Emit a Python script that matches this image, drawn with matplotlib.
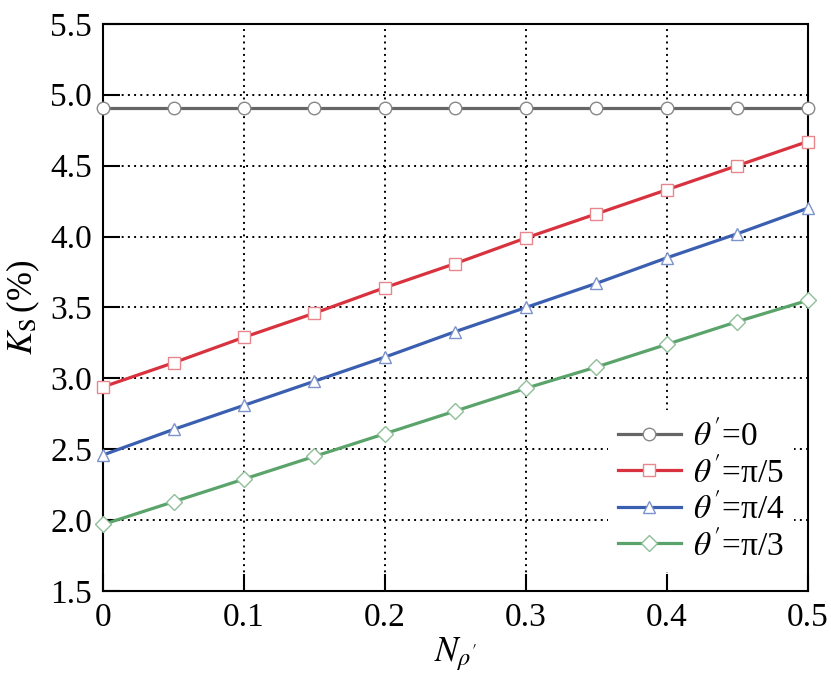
import matplotlib
matplotlib.use("Agg")
import matplotlib.pyplot as plt
from matplotlib import font_manager as fm
import numpy as np

names = {f.name for f in fm.fontManager.ttflist}
serif = 'Liberation Serif' if 'Liberation Serif' in names else 'STIXGeneral'
plt.rcParams['font.family'] = [serif, 'STIXGeneral', 'DejaVu Serif']
plt.rcParams['mathtext.fontset'] = 'stix'

x_vals = [0.0, 0.05, 0.10, 0.15, 0.20, 0.25, 0.30, 0.35, 0.40, 0.45, 0.50]
k_theta0 = [4.91] * 11
k_pi5 = [2.94, 3.11, 3.29, 3.46, 3.64, 3.81, 3.99, 4.16, 4.33, 4.50, 4.67]
k_pi4 = [2.46, 2.64, 2.81, 2.98, 3.15, 3.33, 3.50, 3.67, 3.85, 4.02, 4.20]
k_pi3 = [1.97, 2.13, 2.29, 2.45, 2.61, 2.77, 2.93, 3.08, 3.24, 3.40, 3.55]

labels = [r"$\theta\,'$=0", r"$\theta\,'$=π/5", r"$\theta\,'$=π/4", r"$\theta\,'$=π/3"]
xticks = [0, 0.1, 0.2, 0.3, 0.4, 0.5]
xtick_labels = ['0', '0.1', '0.2', '0.3', '0.4', '0.5']
yticks = [1.5, 2.0, 2.5, 3.0, 3.5, 4.0, 4.5, 5.0, 5.5]

fig = plt.figure(figsize=(8.31, 6.81), dpi=100)
ax = fig.add_axes([0.124, 0.132, 0.848, 0.833])

series = [
    (k_theta0, '#666666', '#888888', 'o'),
    (k_pi5, '#d8323f', '#e8868d', 's'),
    (k_pi4, '#3a5eb0', '#7d93cc', '^'),
    (k_pi3, '#5aa36a', '#8fbf98', 'D'),
]
for (ys, lc, mc, mk), lab in zip(series, labels):
    ms = 9 if mk != 'D' else 8
    ax.plot(x_vals, ys, color=lc, lw=2.3, marker=mk, markersize=ms,
            markerfacecolor='white', markeredgecolor=mc, markeredgewidth=1.0,
            label=lab, clip_on=False, zorder=3)

ax.set_xlim(0, 0.5)
ax.set_ylim(1.5, 5.5)
ax.set_xticks(xticks)
ax.set_xticklabels(xtick_labels)
ax.set_yticks(yticks)
ax.set_yticklabels([f"{v:.1f}" for v in yticks])
ax.tick_params(direction='in', length=12, width=1.5, labelsize=24, pad=8)
for s in ax.spines.values():
    s.set_linewidth(1.5)
ax.grid(True, color='black', linestyle=(0, (1, 2.2)), linewidth=1.4)
ax.set_axisbelow(True)

ax.set_xlabel(r"$N_{\rho'}$", fontsize=25, labelpad=2)
ax.set_ylabel(r"$K_{\mathrm{S}}\,$(%)", fontsize=25, labelpad=6)

leg = ax.legend(loc='lower right', fontsize=24, frameon=True, framealpha=1,
                edgecolor='white', fancybox=False, handlelength=1.9,
                handletextpad=0.35, labelspacing=0.12, borderpad=0.3,
                borderaxespad=0.4, bbox_to_anchor=(1.0, 0.01))
leg.get_frame().set_linewidth(0)

fig.savefig('out.png', dpi=100)
